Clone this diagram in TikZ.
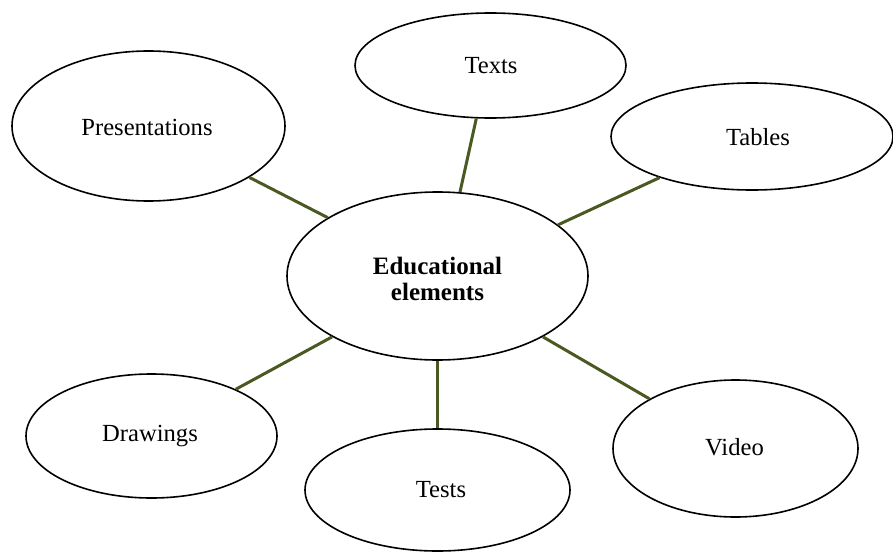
\documentclass[tikz,border=0pt]{standalone}
\usepackage{fontspec}
\setmainfont{Liberation Serif}
\usetikzlibrary{shapes.geometric}
\definecolor{linkgreen}{RGB}{74,88,34}
\tikzset{
  bubble/.style={ellipse, draw=black, line width=1.6pt, fill=white, inner sep=0pt},
  label/.style={font=\fontsize{24.6}{26}\selectfont, inner sep=0pt},
  link/.style={draw=linkgreen, line width=3pt}
}
\begin{document}
\begin{tikzpicture}[x=1pt,y=-1pt]
\useasboundingbox (0,0) rectangle (893,551);
\node[bubble, minimum width=301pt, minimum height=168pt] (c) at (437.5,276) {};
\node[font=\fontsize{25}{26.5}\selectfont\bfseries, align=center, inner sep=0pt] (ct) at (437.5,279) {Educational\\elements};
\node[bubble, minimum width=273pt, minimum height=150pt] (pres) at (148.5,126) {};
\node[label] (prest) at (147,127) {Presentations};
\node[bubble, minimum width=271pt, minimum height=105pt] (texts) at (490.5,65.5) {};
\node[label] (textst) at (491,66) {Texts};
\node[bubble, minimum width=282pt, minimum height=107pt] (tables) at (752,136.5) {};
\node[label] (tablest) at (758,137) {Tables};
\node[bubble, minimum width=251pt, minimum height=124pt] (draw) at (151.5,436) {};
\node[label] (drawt) at (150,436) {Drawings};
\node[bubble, minimum width=265pt, minimum height=122pt] (tests) at (437.5,490) {};
\node[label] (testst) at (441,490) {Tests};
\node[bubble, minimum width=245pt, minimum height=137pt] (video) at (735.5,448.5) {};
\node[label] (videot) at (734.5,447) {Video};
\draw[link] (c.152.9) -- (pres.-27.4);
\draw[link] (c.75.8) -- (texts.255.6);
\draw[link] (c.23.3) -- (tables.204.5);
\draw[link] (c.210) -- (draw.29.5);
\draw[link] (c.270) -- (tests.90);
\draw[link] (c.-30) -- (video.150.3);
\end{tikzpicture}
\end{document}
